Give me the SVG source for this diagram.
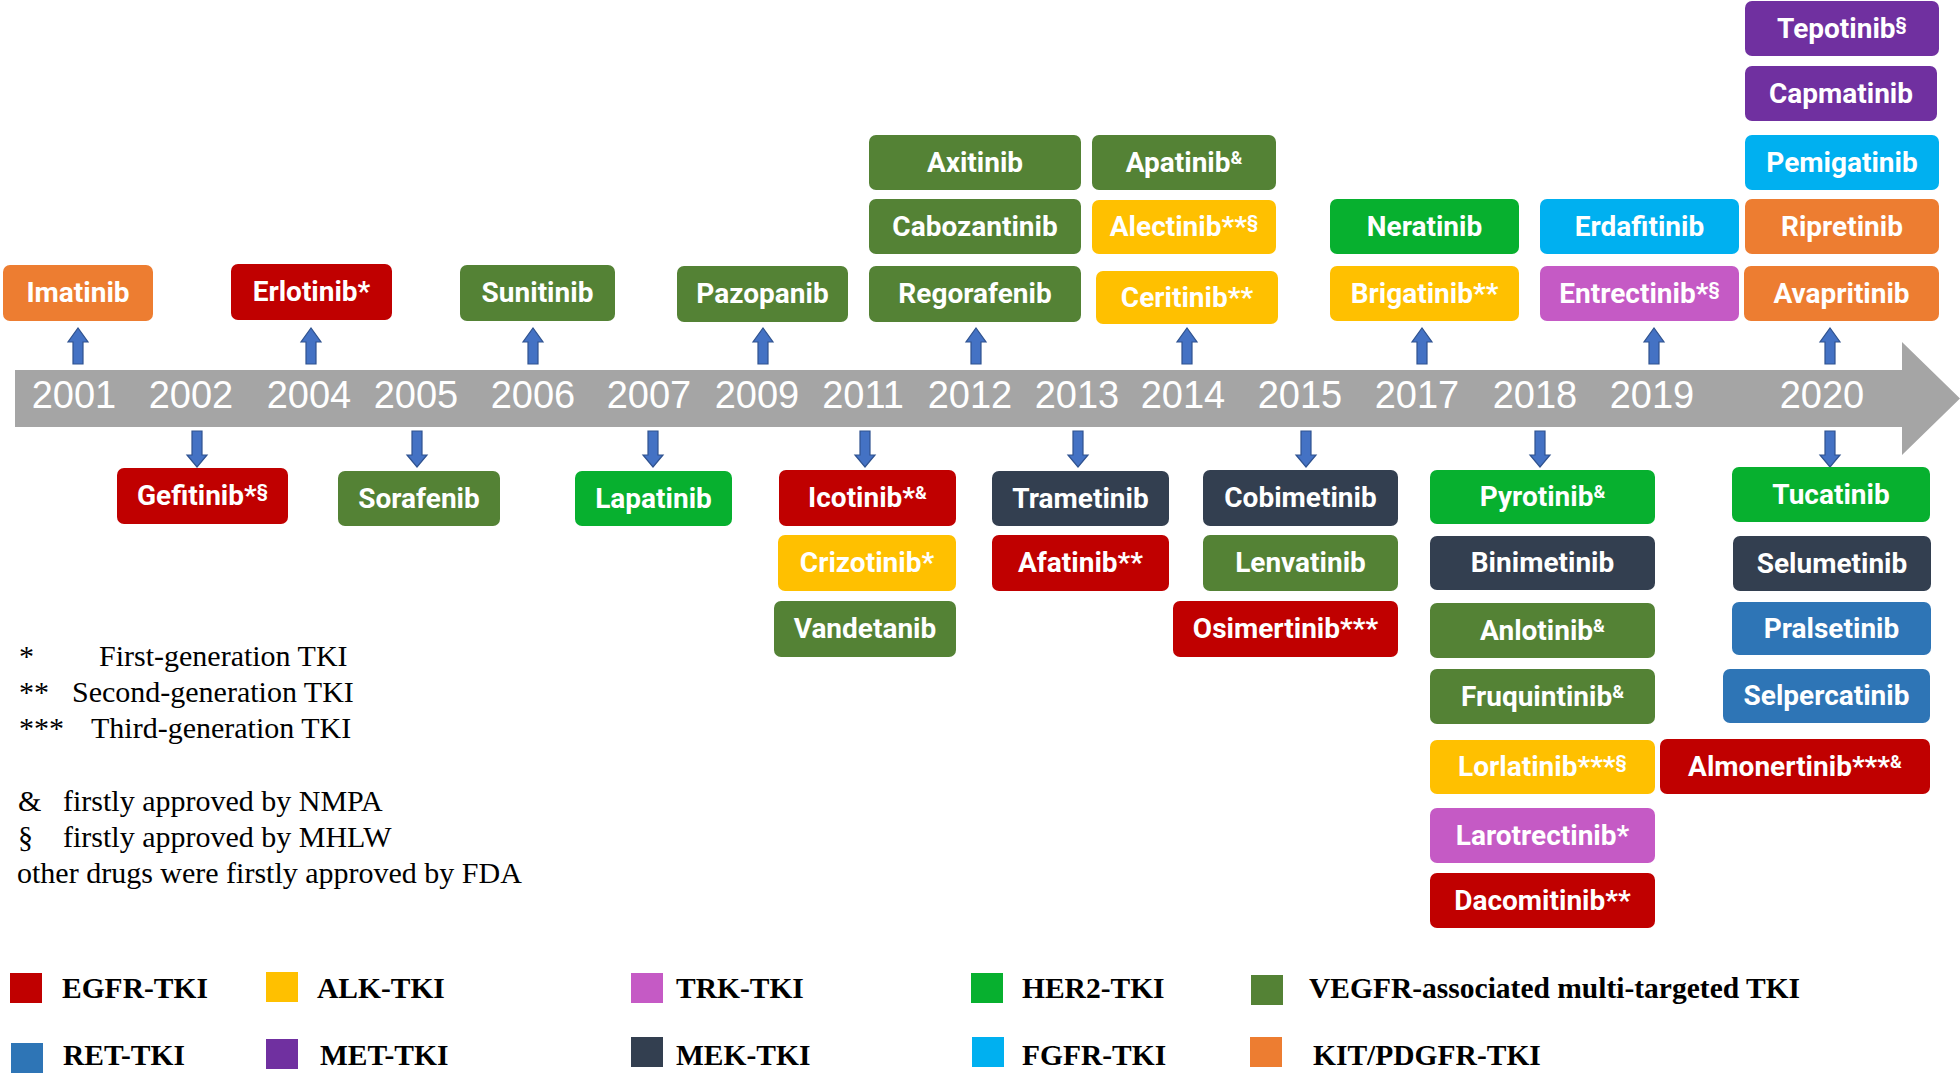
<svg xmlns="http://www.w3.org/2000/svg" xmlns:xlink="http://www.w3.org/1999/xlink" width="1960" height="1075" viewBox="0 0 1960 1075">
<style>
.box{rx:7px;ry:7px}
.lbl{font-family:Roboto,"Open Sans","Liberation Sans",sans-serif;font-weight:700;font-size:28px;fill:#fff;text-anchor:middle}
.sup{font-size:18px}
.yr{font-family:"Liberation Sans",Arial,sans-serif;font-size:38px;fill:#fff;text-anchor:middle}
.note{font-family:"Liberation Serif","Times New Roman",serif;font-size:30px;fill:#000}
.leg{font-family:"Liberation Serif","Times New Roman",serif;font-weight:700;font-size:29.5px;fill:#000}
.egfr{fill:#C00000}.alk{fill:#FFC000}.trk{fill:#C55AC5}.her2{fill:#07B02F}.vegfr{fill:#548235}
.ret{fill:#2E75B6}.met{fill:#7030A0}.mek{fill:#333F50}.fgfr{fill:#00B0F0}.kit{fill:#ED7D31}
.arr{fill:#4472C4;stroke:#2F528F;stroke-width:1.2}
</style>
<defs>
<path id="up" d="M-5,364 V342 H-10 L0,328 L10,342 H5 V364 Z"/>
<path id="down" d="M-5,431 V455 H-10 L0,467 L10,455 H5 V431 Z"/>
</defs>

<g id="timeline">
<path d="M15,370 H1902 V342 L1960,398.5 L1902,455 V427 H15 Z" fill="#A5A5A5"/>
<text class="yr" x="74" y="407.5">2001</text>
<text class="yr" x="191" y="407.5">2002</text>
<text class="yr" x="309" y="407.5">2004</text>
<text class="yr" x="416" y="407.5">2005</text>
<text class="yr" x="533" y="407.5">2006</text>
<text class="yr" x="649" y="407.5">2007</text>
<text class="yr" x="757" y="407.5">2009</text>
<text class="yr" x="863" y="407.5">2011</text>
<text class="yr" x="970" y="407.5">2012</text>
<text class="yr" x="1077" y="407.5">2013</text>
<text class="yr" x="1183" y="407.5">2014</text>
<text class="yr" x="1300" y="407.5">2015</text>
<text class="yr" x="1417" y="407.5">2017</text>
<text class="yr" x="1535" y="407.5">2018</text>
<text class="yr" x="1652" y="407.5">2019</text>
<text class="yr" x="1822" y="407.5">2020</text>
</g>

<g id="connectors">
<use href="#up" class="arr" x="78"/>
<use href="#up" class="arr" x="311"/>
<use href="#up" class="arr" x="533"/>
<use href="#up" class="arr" x="763"/>
<use href="#up" class="arr" x="976"/>
<use href="#up" class="arr" x="1187"/>
<use href="#up" class="arr" x="1422"/>
<use href="#up" class="arr" x="1654"/>
<use href="#up" class="arr" x="1830"/>
<use href="#down" class="arr" x="197"/>
<use href="#down" class="arr" x="417"/>
<use href="#down" class="arr" x="653"/>
<use href="#down" class="arr" x="865"/>
<use href="#down" class="arr" x="1078"/>
<use href="#down" class="arr" x="1306"/>
<use href="#down" class="arr" x="1540"/>
<use href="#down" class="arr" x="1830"/>
</g>

<!-- above timeline -->
<g id="imatinib"><rect class="box kit" x="3" y="265" width="150" height="56"/><text class="lbl" x="78" y="302">Imatinib</text></g>
<g id="erlotinib"><rect class="box egfr" x="231" y="264" width="161" height="56"/><text class="lbl" x="311.5" y="301">Erlotinib*</text></g>
<g id="sunitinib"><rect class="box vegfr" x="460" y="265" width="155" height="56"/><text class="lbl" x="537.5" y="302">Sunitinib</text></g>
<g id="pazopanib"><rect class="box vegfr" x="677" y="266" width="171" height="56"/><text class="lbl" x="762.5" y="303">Pazopanib</text></g>
<g id="axitinib"><rect class="box vegfr" x="869" y="135" width="212" height="55"/><text class="lbl" x="975" y="171.5">Axitinib</text></g>
<g id="cabozantinib"><rect class="box vegfr" x="869" y="199" width="212" height="55"/><text class="lbl" x="975" y="235.5">Cabozantinib</text></g>
<g id="regorafenib"><rect class="box vegfr" x="869" y="266" width="212" height="56"/><text class="lbl" x="975" y="303">Regorafenib</text></g>
<g id="apatinib"><rect class="box vegfr" x="1092" y="135" width="184" height="55"/><text class="lbl" x="1184" y="171.5">Apatinib<tspan class="sup" dy="-8">&amp;</tspan></text></g>
<g id="alectinib"><rect class="box alk" x="1092" y="200" width="184" height="54"/><text class="lbl" x="1184" y="236">Alectinib**<tspan class="sup" dy="-8">§</tspan></text></g>
<g id="ceritinib"><rect class="box alk" x="1096" y="271" width="182" height="53"/><text class="lbl" x="1187" y="306.5">Ceritinib**</text></g>
<g id="neratinib"><rect class="box her2" x="1330" y="199" width="189" height="55"/><text class="lbl" x="1424.5" y="235.5">Neratinib</text></g>
<g id="brigatinib"><rect class="box alk" x="1330" y="266" width="189" height="55"/><text class="lbl" x="1424.5" y="302.5">Brigatinib**</text></g>
<g id="erdafitinib"><rect class="box fgfr" x="1540" y="199" width="199" height="55"/><text class="lbl" x="1639.5" y="235.5">Erdafitinib</text></g>
<g id="entrectinib"><rect class="box trk" x="1540" y="266" width="199" height="55"/><text class="lbl" x="1639.5" y="302.5">Entrectinib*<tspan class="sup" dy="-8">§</tspan></text></g>
<g id="tepotinib"><rect class="box met" x="1745" y="1" width="194" height="55"/><text class="lbl" x="1842" y="37.5">Tepotinib<tspan class="sup" dy="-8">§</tspan></text></g>
<g id="capmatinib"><rect class="box met" x="1745" y="66" width="192" height="55"/><text class="lbl" x="1841" y="102.5">Capmatinib</text></g>
<g id="pemigatinib"><rect class="box fgfr" x="1745" y="135" width="194" height="55"/><text class="lbl" x="1842" y="171.5">Pemigatinib</text></g>
<g id="ripretinib"><rect class="box kit" x="1745" y="199" width="194" height="55"/><text class="lbl" x="1842" y="235.5">Ripretinib</text></g>
<g id="avapritinib"><rect class="box kit" x="1744" y="266" width="195" height="55"/><text class="lbl" x="1841.5" y="302.5">Avapritinib</text></g>

<!-- below timeline -->
<g id="gefitinib"><rect class="box egfr" x="117" y="468" width="171" height="56"/><text class="lbl" x="202.5" y="505">Gefitinib*<tspan class="sup" dy="-8">§</tspan></text></g>
<g id="sorafenib"><rect class="box vegfr" x="338" y="471" width="162" height="55"/><text class="lbl" x="419" y="507.5">Sorafenib</text></g>
<g id="lapatinib"><rect class="box her2" x="575" y="471" width="157" height="55"/><text class="lbl" x="653.5" y="507.5">Lapatinib</text></g>
<g id="icotinib"><rect class="box egfr" x="779" y="470" width="177" height="56"/><text class="lbl" x="867.5" y="507">Icotinib*<tspan class="sup" dy="-8">&amp;</tspan></text></g>
<g id="crizotinib"><rect class="box alk" x="778" y="535" width="178" height="56"/><text class="lbl" x="867" y="572">Crizotinib*</text></g>
<g id="vandetanib"><rect class="box vegfr" x="774" y="601" width="182" height="56"/><text class="lbl" x="865" y="638">Vandetanib</text></g>
<g id="trametinib"><rect class="box mek" x="992" y="471" width="177" height="55"/><text class="lbl" x="1080.5" y="507.5">Trametinib</text></g>
<g id="afatinib"><rect class="box egfr" x="992" y="535" width="177" height="56"/><text class="lbl" x="1080.5" y="572">Afatinib**</text></g>
<g id="cobimetinib"><rect class="box mek" x="1203" y="470" width="195" height="56"/><text class="lbl" x="1300.5" y="507">Cobimetinib</text></g>
<g id="lenvatinib"><rect class="box vegfr" x="1203" y="535" width="195" height="56"/><text class="lbl" x="1300.5" y="572">Lenvatinib</text></g>
<g id="osimertinib"><rect class="box egfr" x="1173" y="601" width="225" height="56"/><text class="lbl" x="1285.5" y="638">Osimertinib***</text></g>
<g id="pyrotinib"><rect class="box her2" x="1430" y="470" width="225" height="54"/><text class="lbl" x="1542.5" y="506">Pyrotinib<tspan class="sup" dy="-8">&amp;</tspan></text></g>
<g id="binimetinib"><rect class="box mek" x="1430" y="536" width="225" height="54"/><text class="lbl" x="1542.5" y="572">Binimetinib</text></g>
<g id="anlotinib"><rect class="box vegfr" x="1430" y="603" width="225" height="55"/><text class="lbl" x="1542.5" y="639.5">Anlotinib<tspan class="sup" dy="-8">&amp;</tspan></text></g>
<g id="fruquintinib"><rect class="box vegfr" x="1430" y="669" width="225" height="55"/><text class="lbl" x="1542.5" y="705.5">Fruquintinib<tspan class="sup" dy="-8">&amp;</tspan></text></g>
<g id="lorlatinib"><rect class="box alk" x="1430" y="740" width="225" height="54"/><text class="lbl" x="1542.5" y="776">Lorlatinib***<tspan class="sup" dy="-8">§</tspan></text></g>
<g id="larotrectinib"><rect class="box trk" x="1430" y="808" width="225" height="55"/><text class="lbl" x="1542.5" y="844.5">Larotrectinib*</text></g>
<g id="dacomitinib"><rect class="box egfr" x="1430" y="873" width="225" height="55"/><text class="lbl" x="1542.5" y="909.5">Dacomitinib**</text></g>
<g id="tucatinib"><rect class="box her2" x="1732" y="467" width="198" height="55"/><text class="lbl" x="1831" y="503.5">Tucatinib</text></g>
<g id="selumetinib"><rect class="box mek" x="1733" y="536" width="198" height="55"/><text class="lbl" x="1832" y="572.5">Selumetinib</text></g>
<g id="pralsetinib"><rect class="box ret" x="1732" y="602" width="199" height="53"/><text class="lbl" x="1831.5" y="637.5">Pralsetinib</text></g>
<g id="selpercatinib"><rect class="box ret" x="1723" y="669" width="207" height="54"/><text class="lbl" x="1826.5" y="705">Selpercatinib</text></g>
<g id="almonertinib"><rect class="box egfr" x="1660" y="739" width="270" height="55"/><text class="lbl" x="1795" y="775.5">Almonertinib***<tspan class="sup" dy="-8">&amp;</tspan></text></g>

<!-- notes -->
<g id="notes">
<text class="note" x="19" y="666">*</text><text class="note" x="99" y="666">First-generation TKI</text>
<text class="note" x="19" y="702">**</text><text class="note" x="72" y="702">Second-generation TKI</text>
<text class="note" x="19" y="738">***</text><text class="note" x="91" y="738">Third-generation TKI</text>
<text class="note" x="18" y="811">&amp;</text><text class="note" x="63" y="811">firstly approved by NMPA</text>
<text class="note" x="18" y="847">§</text><text class="note" x="63" y="847">firstly approved by MHLW</text>
<text class="note" x="17" y="883">other drugs were firstly approved by FDA</text>
</g>

<!-- colour legend -->
<g id="legend">
<rect class="egfr" x="10" y="973" width="32" height="30"/><text class="leg" x="62" y="998">EGFR-TKI</text>
<rect class="alk" x="266" y="972" width="32" height="30"/><text class="leg" x="317" y="998">ALK-TKI</text>
<rect class="trk" x="631" y="973" width="32" height="30"/><text class="leg" x="676" y="998">TRK-TKI</text>
<rect class="her2" x="971" y="973" width="32" height="30"/><text class="leg" x="1022" y="998">HER2-TKI</text>
<rect class="vegfr" x="1251" y="975" width="32" height="30"/><text class="leg" x="1309" y="998">VEGFR-associated multi-targeted TKI</text>
<rect class="ret" x="11" y="1043" width="32" height="30"/><text class="leg" x="63" y="1065">RET-TKI</text>
<rect class="met" x="266" y="1039" width="32" height="30"/><text class="leg" x="320" y="1065">MET-TKI</text>
<rect class="mek" x="631" y="1037" width="32" height="30"/><text class="leg" x="676" y="1065">MEK-TKI</text>
<rect class="fgfr" x="972" y="1037" width="32" height="30"/><text class="leg" x="1022" y="1065">FGFR-TKI</text>
<rect class="kit" x="1250" y="1037" width="32" height="30"/><text class="leg" x="1313" y="1065">KIT/PDGFR-TKI</text>
</g>
</svg>
